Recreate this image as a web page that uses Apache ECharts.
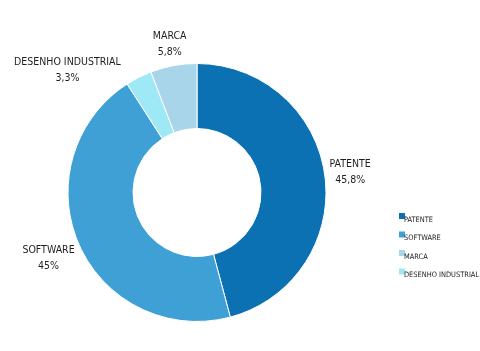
<!DOCTYPE html>
<html>
<head>
<meta charset="utf-8">
<style>html,body{margin:0;padding:0;background:#fff;}#c{width:480px;height:351px;}</style>
<script src="https://cdn.jsdelivr.net/npm/echarts@6/dist/echarts.min.js"></script>
</head>
<body>
<div id="c"></div>
<script>
const categories = ['PATENTE', 'SOFTWARE', 'DESENHO INDUSTRIAL', 'MARCA'];
const values = [45.8, 45, 3.3, 5.8];
const valueLabels = ['45,8%', '45%', '3,3%', '5,8%'];
const legendOrder = ['PATENTE', 'SOFTWARE', 'MARCA', 'DESENHO INDUSTRIAL'];
const colors = ['#0b71b3', '#3fa0d6', '#9fe9f6', '#a8d5ea'];

const CX = 197, CY = 192.5, R_OUT = 129, R_IN = 64;
const FONT = '"Liberation Sans Narrow", "DejaVu Sans Condensed", sans-serif';

const chart = echarts.init(document.getElementById('c'), null, {renderer: 'canvas'});
const total = values.reduce((a, b) => a + b, 0);

function labelLayout(params) {
  const i = params.dataIndex;
  let before = 0;
  for (let k = 0; k < i; k++) before += values[k];
  const mid = (before + values[i] / 2) / total;
  const th = mid * 2 * Math.PI;
  const ux = Math.sin(th), uy = -Math.cos(th);
  const px = CX + R_OUT * ux, py = CY + R_OUT * uy;
  const w = params.labelRect.width, h = params.labelRect.height;
  if (i === 2) {
    return {x: px - 18 - w / 2, y: py - 7, align: 'center', verticalAlign: 'middle'};
  }
  const off = Math.abs(ux) * w / 2 + Math.abs(uy) * h / 2 + 3;
  return {x: px + off * ux, y: py + off * uy, align: 'center', verticalAlign: 'middle'};
}

chart.setOption({
  animation: false,
  color: colors,
  legend: {
    orient: 'vertical',
    left: 397,
    top: 211,
    padding: 0,
    width: 83,
    data: legendOrder,
    icon: 'rect',
    itemWidth: 8,
    itemHeight: 8,
    itemGap: 6,
    formatter: name => '{t|' + name + '}',
    textStyle: {
      fontFamily: FONT, fontSize: 7.4, color: '#222', overflow: 'none',
      rich: {t: {fontFamily: FONT, fontSize: 7.4, color: '#222', padding: [8, 0, 0, -7]}}
    }
  },
  series: [{
    type: 'pie',
    center: [CX, CY],
    radius: [R_IN, R_OUT],
    startAngle: 90,
    clockwise: true,
    data: categories.map((c, i) => ({name: c, value: values[i]})),
    itemStyle: {borderColor: '#fff', borderWidth: 1},
    label: {
      show: true,
      position: 'outside',
      formatter: p => p.name + '\n' + valueLabels[p.dataIndex],
      fontFamily: FONT,
      fontSize: 10.5,
      lineHeight: 16,
      color: '#1e1e1e',
      align: 'center',
      overflow: 'none'
    },
    labelLine: {show: false},
    labelLayout: labelLayout,
    emphasis: {disabled: true}
  }]
});
</script>
</body>
</html>
